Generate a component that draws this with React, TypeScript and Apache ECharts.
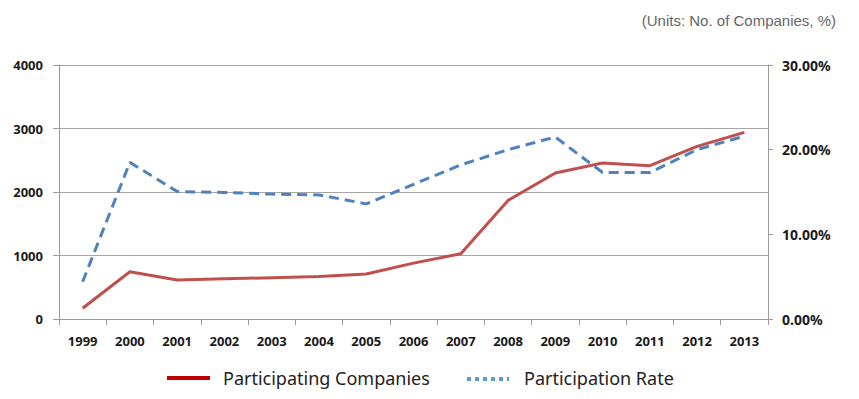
import React, { useEffect, useRef } from "react";
import * as echarts from "echarts";

const years = ["1999","2000","2001","2002","2003","2004","2005","2006","2007","2008","2009","2010","2011","2012","2013"];
const companies = [170, 745, 614, 632, 650, 668, 708, 880, 1028, 1868, 2299, 2457, 2414, 2718, 2939];
const rates = [4.4, 18.5, 15.05, 14.95, 14.75, 14.66, 13.6, 15.9, 18.2, 20.0, 21.5, 17.3, 17.3, 20.0, 21.6];
const leftTicks = { min: 0, max: 4000, interval: 1000 };
const rightTicks = { min: 0, max: 30, interval: 10 };

export default function App() {
  const ref = useRef<HTMLDivElement>(null);
  useEffect(() => {
    if (!ref.current) return;
    const chart = echarts.init(ref.current, null, { renderer: "svg" });
    const axisFont = { fontFamily: "Noto Sans", fontWeight: "bold", fontSize: 13, color: "#1a1a1a" };
    chart.setOption({
      animation: false,
      backgroundColor: "#ffffff",
      grid: { left: 59, right: 91, top: 65, bottom: 80 },
      xAxis: {
        type: "category",
        data: years,
        boundaryGap: true,
        axisLine: { lineStyle: { color: "#9a9a9a", width: 1 } },
        axisTick: { show: true, length: 6, lineStyle: { color: "#9a9a9a" } },
        axisLabel: { ...axisFont, margin: 15 },
      },
      yAxis: [
        {
          type: "value",
          ...leftTicks,
          axisLine: { show: true, lineStyle: { color: "#9a9a9a" } },
          axisTick: { show: true, length: 6, lineStyle: { color: "#9a9a9a" } },
          splitLine: { show: true, lineStyle: { color: "#a6a6a6", width: 1 } },
          axisLabel: { ...axisFont, margin: 16, formatter: (v: number) => String(v) },
        },
        {
          type: "value",
          position: "right",
          ...rightTicks,
          axisLine: { show: true, lineStyle: { color: "#9a9a9a" } },
          axisTick: { show: true, length: 5, lineStyle: { color: "#9a9a9a" } },
          splitLine: { show: false },
          axisLabel: { ...axisFont, fontSize: 14, margin: 14, formatter: (v: number) => v.toFixed(2) + "%" },
        },
      ],
      series: [
        {
          name: "Participating Companies",
          type: "line",
          data: companies,
          yAxisIndex: 0,
          symbol: "none",
          lineStyle: { color: "#c0504d", width: 3 },
          z: 3,
        },
        {
          name: "Participation Rate",
          type: "line",
          data: rates,
          yAxisIndex: 1,
          symbol: "none",
          lineStyle: { color: "#4f81bd", width: 3, type: [10, 6] },
          z: 2,
        },
      ],
      graphic: [
        {
          type: "text",
          right: 23,
          top: 13,
          style: { text: "(Units: No. of Companies, %)", font: "15px 'Liberation Sans', Arial, sans-serif", fill: "#666666" },
        },
        { type: "line", shape: { x1: 167, y1: 378, x2: 210, y2: 378 }, style: { stroke: "#c00000", lineWidth: 4 } },
        {
          type: "text",
          x: 223,
          y: 378,
          style: { text: "Participating Companies", font: "18px 'Noto Sans', sans-serif", fill: "#222222", verticalAlign: "middle" },
        },
        { type: "line", shape: { x1: 467, y1: 379, x2: 509, y2: 379 }, style: { stroke: "#5b9bd5", lineWidth: 4, lineDash: [4, 4] } },
        {
          type: "text",
          x: 524,
          y: 378,
          style: { text: "Participation Rate", font: "18px 'Noto Sans', sans-serif", fill: "#222222", verticalAlign: "middle" },
        },
      ],
    });
    return () => chart.dispose();
  }, []);
  return <div ref={ref} style={{ position: "fixed", left: 0, top: 0, width: 859, height: 399 }} />;
}
